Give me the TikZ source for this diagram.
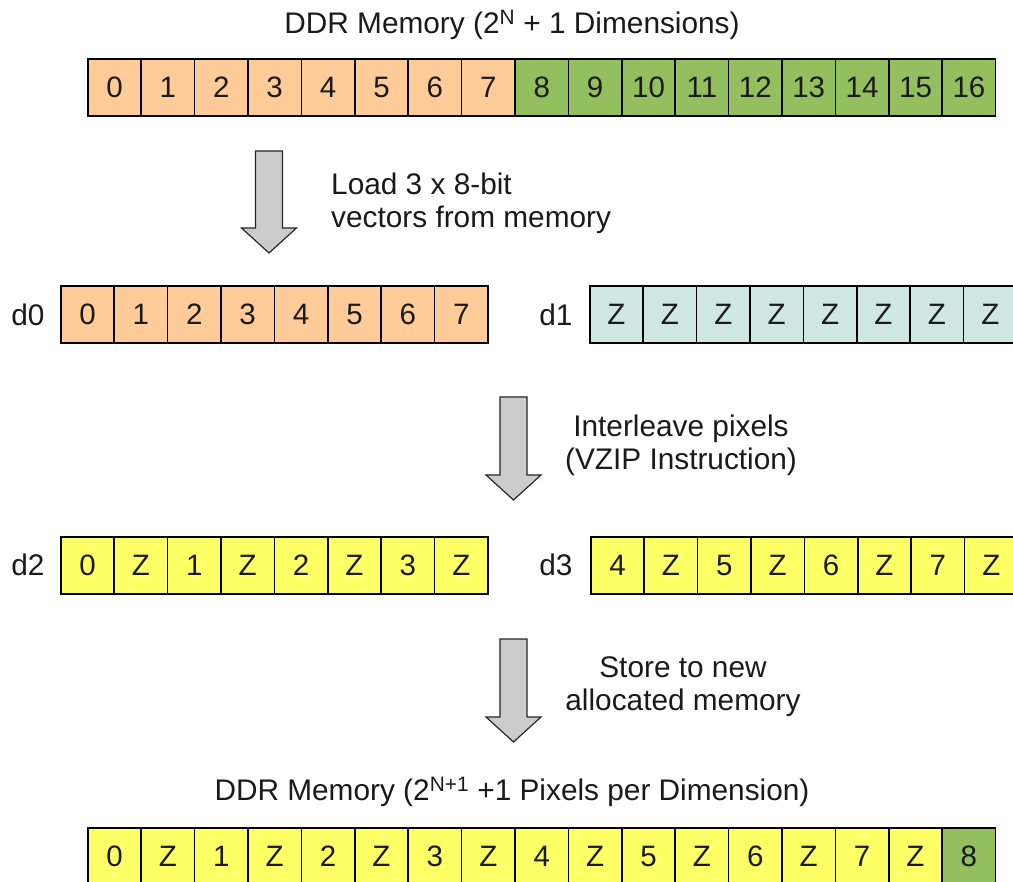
\documentclass[tikz,border=0pt]{standalone}
\usepackage{fontspec}
\setmainfont{Liberation Sans}
\definecolor{peach}{HTML}{FFCC99}
\definecolor{leaf}{HTML}{94BF5E}
\definecolor{mist}{HTML}{CFE7E3}
\definecolor{lemon}{HTML}{FFFF66}
\definecolor{arrowgray}{HTML}{CCCCCC}
\definecolor{ink}{HTML}{1A1A1A}

% one row of memory cells: name, left x, top y, list of text/colour
\newcommand{\cellrow}[4]{%
  \foreach \t/\c [count=\i from 0] in {#4} {%
    \node[cell, fill=\c, anchor=north west] (#1-\i) at ({#2+\i*53.4},#3) {\t};
  }%
}
% block arrow pointing down: centre x, top y, tip y
\newcommand{\blockdown}[3]{%
  \draw[blockarrow] ({#1-13.5},#2) -- ({#1+13.5},#2) -- ({#1+13.5},{#3-25})
    -- ({#1+27.5},{#3-25}) -- (#1,#3) -- ({#1-27.5},{#3-25})
    -- ({#1-13.5},{#3-25}) -- cycle;
}

\begin{document}
\begin{tikzpicture}[x=1pt,y=-1pt,
  cell/.style={draw=black, line width=1.6pt, minimum width=53.4pt,
    minimum height=57.5pt, inner sep=0pt, text=ink,
    font=\fontsize{29.5}{30}\selectfont},
  caption/.style={text=ink, inner sep=0pt, font=\fontsize{29.8}{33}\selectfont},
  blockarrow/.style={fill=arrowgray, draw=black!85, line width=1.2pt, line join=miter}]
\useasboundingbox (0,0) rectangle (1013,882);
\clip (0,0) rectangle (1013,882);

% source memory
\node[caption] (title) at (512,25) {DDR Memory (2\textsuperscript{N} + 1 Dimensions)};
\cellrow{src}{87}{58}{0/peach,1/peach,2/peach,3/peach,4/peach,5/peach,6/peach,7/peach,
  8/leaf,9/leaf,10/leaf,11/leaf,12/leaf,13/leaf,14/leaf,15/leaf,16/leaf}

% load step
\blockdown{269}{151}{253}
\node[caption, anchor=west, align=left] (load) at (331,203) {Load 3 x 8-bit\\vectors from memory};

% registers d0 and d1
\node[caption] (d0) at (28,315) {d0};
\cellrow{dz}{60}{285}{0/peach,1/peach,2/peach,3/peach,4/peach,5/peach,6/peach,7/peach}
\node[caption] (d1) at (556,315) {d1};
\cellrow{do}{589}{285}{Z/mist,Z/mist,Z/mist,Z/mist,Z/mist,Z/mist,Z/mist,Z/mist}

% interleave step
\blockdown{513.5}{397}{500}
\node[caption, align=center] (zip) at (681,445) {Interleave pixels\\(VZIP Instruction)};

% registers d2 and d3
\node[caption] (d2) at (28,565) {d2};
\cellrow{dt}{60}{536}{0/lemon,Z/lemon,1/lemon,Z/lemon,2/lemon,Z/lemon,3/lemon,Z/lemon}
\node[caption] (d3) at (556,565) {d3};
\cellrow{dh}{590}{536}{4/lemon,Z/lemon,5/lemon,Z/lemon,6/lemon,Z/lemon,7/lemon,Z/lemon}

% store step
\blockdown{513.5}{639}{742}
\node[caption, align=center] (store) at (683,687) {Store to new\\allocated memory};

% destination memory
\node[caption] (title2) at (512,792) {DDR Memory (2\textsuperscript{N+1} +1 Pixels per Dimension)};
\cellrow{dst}{87}{827}{0/lemon,Z/lemon,1/lemon,Z/lemon,2/lemon,Z/lemon,3/lemon,Z/lemon,
  4/lemon,Z/lemon,5/lemon,Z/lemon,6/lemon,Z/lemon,7/lemon,Z/lemon,8/leaf}
\end{tikzpicture}
\end{document}
